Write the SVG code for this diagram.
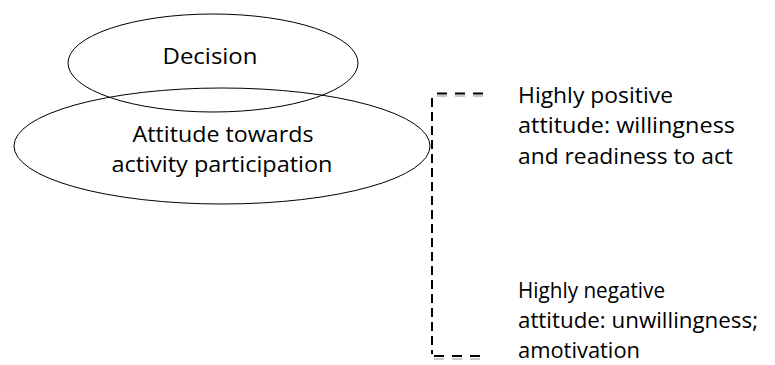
<svg xmlns="http://www.w3.org/2000/svg" width="775" height="365" viewBox="0 0 775 365">
<style>
.node{fill:none;stroke:#000;stroke-width:1}
text{font-family:"Open Sans","Liberation Sans",Arial,sans-serif;font-size:21px;fill:#000}
.dash{fill:none;stroke:#000;stroke-width:2}
.sh{fill:none;stroke:#c8c8c8;stroke-width:2}
</style>
<rect width="775" height="365" fill="#fff"/>
<g id="decision">
<ellipse class="node" cx="213" cy="63" rx="145" ry="49"/>
<text x="210" y="64" text-anchor="middle" textLength="95" lengthAdjust="spacingAndGlyphs">Decision</text>
</g>
<g id="attitude">
<ellipse class="node" cx="222" cy="146" rx="208" ry="58"/>
<text x="223" y="142" text-anchor="middle" textLength="181" lengthAdjust="spacingAndGlyphs">Attitude towards</text>
<text x="222" y="172" text-anchor="middle" textLength="221" lengthAdjust="spacingAndGlyphs">activity participation</text>
</g>
<g id="connectors">
<path class="sh" d="M437 96 H484 M434 359 H481" stroke-dasharray="10 8"/>
<path class="dash" d="M437 93.5 H484" stroke-dasharray="10 8"/>
<path class="dash" d="M432 98 V354" stroke-dasharray="9 5"/>
<path class="dash" d="M434 356 H481" stroke-dasharray="10 8"/>
</g>
<g id="positive">
<text x="518" y="103" textLength="155" lengthAdjust="spacingAndGlyphs">Highly positive</text>
<text x="518" y="133" textLength="217" lengthAdjust="spacingAndGlyphs">attitude: willingness</text>
<text x="518" y="164" textLength="215" lengthAdjust="spacingAndGlyphs">and readiness to act</text>
</g>
<g id="negative">
<text x="518" y="298" textLength="147" lengthAdjust="spacingAndGlyphs">Highly negative</text>
<text x="518" y="328" textLength="240" lengthAdjust="spacingAndGlyphs">attitude: unwillingness;</text>
<text x="518" y="358" textLength="122" lengthAdjust="spacingAndGlyphs">amotivation</text>
</g>
</svg>
